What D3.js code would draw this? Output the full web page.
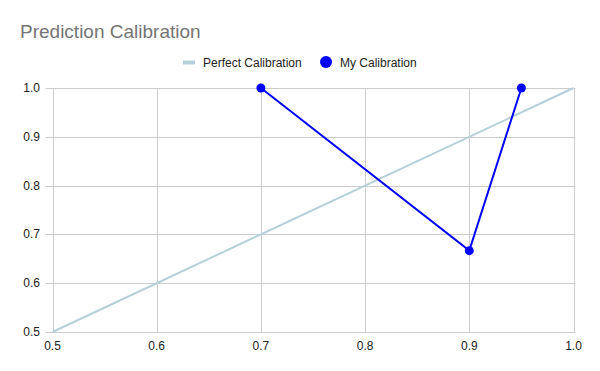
<!DOCTYPE html>
<html>
<head>
<meta charset="utf-8">
<script src="https://cdn.jsdelivr.net/npm/d3@7"></script>
<style>
  body { margin: 0; background: #fff; }
  text { font-family: Arial, "Liberation Sans", sans-serif; }
</style>
</head>
<body>
<div id="chart"></div>
<script>
// chart data
var perfectX = [0.5, 1.0]
var perfectY = [0.5, 1.0]
var myX = [0.7, 0.9, 0.95]
var myY = [1.0, 0.6667, 1.0]
var xTicks = [0.5, 0.6, 0.7, 0.8, 0.9, 1.0]
var yTicks = [0.5, 0.6, 0.7, 0.8, 0.9, 1.0]

var width = 600
var height = 371
var plotLeft = 52.5, plotRight = 573.5, plotTop = 88, plotBottom = 332

var svg = d3.select('#chart').append('svg')
    .attr('width', width)
    .attr('height', height)

var x = d3.scaleLinear().domain([0.5, 1.0]).range([plotLeft, plotRight])
var y = d3.scaleLinear().domain([0.5, 1.0]).range([plotBottom, plotTop])

// gridlines
svg.append('g').selectAll('line')
    .data(xTicks)
    .join('line')
    .attr('x1', d => Math.round(x(d)) + 0.5)
    .attr('x2', d => Math.round(x(d)) + 0.5)
    .attr('y1', plotTop)
    .attr('y2', plotBottom)
    .attr('stroke', '#cccccc')
    .attr('stroke-width', 1)

svg.append('g').selectAll('line')
    .data(yTicks)
    .join('line')
    .attr('x1', plotLeft - 7)
    .attr('x2', plotRight + 2)
    .attr('y1', d => Math.round(y(d)) + 0.5)
    .attr('y2', d => Math.round(y(d)) + 0.5)
    .attr('stroke', '#cccccc')
    .attr('stroke-width', 1)

// axis labels
svg.append('g').selectAll('text')
    .data(yTicks)
    .join('text')
    .attr('x', 40)
    .attr('y', d => y(d) + 4)
    .attr('text-anchor', 'end')
    .attr('font-size', 12)
    .attr('fill', '#222')
    .text(d => d3.format('.1f')(d))

svg.append('g').selectAll('text')
    .data(xTicks)
    .join('text')
    .attr('x', d => x(d))
    .attr('y', 350)
    .attr('text-anchor', 'middle')
    .attr('font-size', 12)
    .attr('fill', '#222')
    .text(d => d3.format('.1f')(d))

// perfect line
var line = d3.line().x(d => x(d[0])).y(d => y(d[1]))

svg.append('path')
    .datum(d3.zip(perfectX, perfectY))
    .attr('d', line)
    .attr('fill', 'none')
    .attr('stroke', '#b6cfd8')
    .attr('stroke-width', 2)

// my calibration
var myData = d3.zip(myX, myY)
svg.append('path')
    .datum(myData)
    .attr('d', line)
    .attr('fill', 'none')
    .attr('stroke', '#0000ff')
    .attr('stroke-width', 2)

svg.append('g').selectAll('circle')
    .data(myData)
    .join('circle')
    .attr('cx', d => x(d[0]))
    .attr('cy', d => y(d[1]))
    .attr('r', 4.5)
    .attr('fill', '#0000ff')

// title
svg.append('text')
    .attr('x', 20)
    .attr('y', 38)
    .attr('font-size', 19)
    .attr('fill', '#757575')
    .text('Prediction Calibration')

// legend
var lg = svg.append('g')
lg.append('rect')
    .attr('x', 183)
    .attr('y', 60.5)
    .attr('width', 12)
    .attr('height', 4)
    .attr('fill', '#b6cfd8')
lg.append('text')
    .attr('x', 203)
    .attr('y', 66.5)
    .attr('font-size', 12)
    .attr('fill', '#222')
    .text('Perfect Calibration')
lg.append('circle')
    .attr('cx', 326)
    .attr('cy', 62)
    .attr('r', 6)
    .attr('fill', '#0000ff')
lg.append('text')
    .attr('x', 340)
    .attr('y', 66.5)
    .attr('font-size', 12)
    .attr('fill', '#222')
    .text('My Calibration')
</script>
</body>
</html>
